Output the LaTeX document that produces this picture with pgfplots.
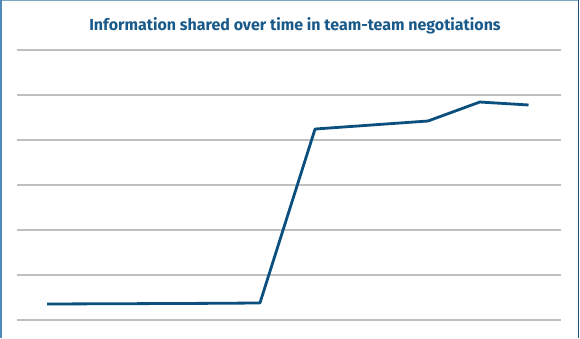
\documentclass[border=0pt]{standalone}
\usepackage{pgfplots}
\pgfplotsset{compat=1.18}
\usepackage{fontspec}
\setmainfont{Fira Sans}
\definecolor{lineblue}{HTML}{0B4F7E}
\definecolor{titleblue}{HTML}{1A5A8A}
\definecolor{gridgray}{HTML}{BFBFBF}
\definecolor{frameleft}{HTML}{4F8AB8}
\definecolor{frametop}{HTML}{7FA7C4}
\definecolor{frameright}{HTML}{1F4E79}
\begin{document}
\begin{tikzpicture}[x=1pt,y=1pt]
\path[use as bounding box] (0,0) rectangle (580,338);
\fill[white] (0,0) rectangle (580,338);
\draw[frametop, line width=1.5pt] (0,337.25) -- (579,337.25);
\draw[frameleft, line width=1.5pt] (0.75,0) -- (0.75,338);
\draw[frameright, line width=1.5pt] (578.25,0) -- (578.25,338);
\node[text=titleblue, font=\bfseries\fontsize{16}{19}\selectfont, anchor=base, inner sep=0pt] at (295,307) {Information shared over time in team-team negotiations};
\begin{axis}[
  at={(17pt,18pt)}, anchor=south west,
  width=544pt, height=270pt, scale only axis,
  xmin=-0.561, xmax=9.607, ymin=0, ymax=6,
  axis line style={draw=none},
  ticks=none,
  ymajorgrids, ytick={0,1,2,3,4,5,6},
  major grid style={gridgray, line width=1.5pt},
  clip=false,
]
\addplot[lineblue, line width=2.8pt, line join=round] coordinates {
(0,0.356) (1,0.360) (2,0.365) (3,0.370) (3.98,0.378) (5.01,4.244) (7.12,4.422) (8.09,4.844) (9.0,4.778)
};
\end{axis}
\end{tikzpicture}
\end{document}
